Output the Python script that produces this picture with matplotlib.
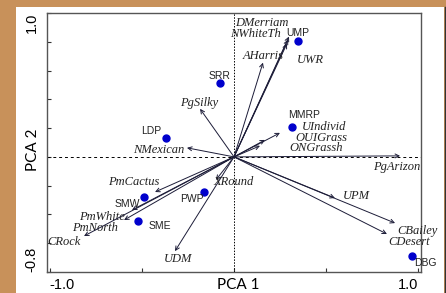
import matplotlib.pyplot as plt
from matplotlib.patches import Rectangle

# variable vectors (arrow tips) and where their labels sit
var_names = ['DMerriam', 'NWhiteTh', 'UWR', 'AHarris', 'UIndivid', 'OUIGrass',
             'ONGrassh', 'PgArizon', 'UPM', 'CBailey', 'CDesert', 'PgSilky',
             'NMexican', 'PmCactus', 'PmWhite', 'PmNorth', 'CRock', 'UDM', 'XRound']
var_x = [0.298, 0.293, 0.287, 0.157, 0.249, 0.168, 0.141, 0.900, 0.547, 0.873,
         0.829, -0.184, -0.255, -0.428, -0.553, -0.596, -0.813, -0.320, -0.098]
var_y = [0.836, 0.815, 0.787, 0.655, 0.167, 0.118, 0.077, 0.007, -0.286, -0.460,
         -0.536, 0.334, 0.063, -0.244, -0.369, -0.439, -0.550, -0.655, -0.160]
var_lab_x = [0.152, 0.119, 0.412, 0.157, 0.488, 0.472, 0.444, 0.883, 0.661, 0.992,
             0.949, -0.190, -0.407, -0.542, -0.715, -0.753, -0.921, -0.304, -0.005]
var_lab_y = [0.933, 0.857, 0.675, 0.703, 0.205, 0.133, 0.062, -0.070, -0.272, -0.515,
             -0.592, 0.376, 0.049, -0.174, -0.418, -0.494, -0.592, -0.710, -0.174]

# sites (blue points)
site_names = ['UMP', 'SRR', 'LDP', 'MMRP', 'SMW', 'PWP', 'SME', 'DBG']
site_x = [0.345, -0.076, -0.370, 0.313, -0.488, -0.161, -0.522, 0.966]
site_y = [0.803, 0.513, 0.130, 0.211, -0.276, -0.242, -0.446, -0.689]
site_lab_x = [0.345, -0.081, -0.450, 0.379, -0.580, -0.228, -0.401, 1.040]
site_lab_y = [0.864, 0.564, 0.181, 0.292, -0.327, -0.292, -0.480, -0.738]

fig = plt.figure(figsize=(4.46, 2.93), dpi=100)
fig.patch.set_facecolor('#C8915A')
panel = Rectangle((16 / 446, 0), 428 / 446, 286 / 293,
                  transform=fig.transFigure, facecolor='white',
                  edgecolor='none', zorder=-5)
fig.add_artist(panel)
fig.add_artist(plt.Line2D([445 / 446, 445 / 446], [0, 286 / 293],
                          transform=fig.transFigure, color='#333333', lw=1,
                          zorder=-4))

ax = fig.add_axes([47 / 446, 21 / 293, 374 / 446, 259 / 293])
ax.set_xlim(-1.0136, 1.0136)
ax.set_ylim(-0.8, 1.0)

ax.axhline(0, color='black', lw=0.7, ls=(0, (3, 3)))
ax.axvline(0, color='black', lw=0.7, ls=(0, (1.5, 1.5)))

for name, x, y, lx, ly in zip(var_names, var_x, var_y, var_lab_x, var_lab_y):
    ax.annotate('', xy=(x, y), xytext=(0, 0),
                arrowprops=dict(arrowstyle='->', color='#1c1c38', lw=0.7,
                                mutation_scale=7, shrinkA=0, shrinkB=0))
    ax.text(lx, ly, name, fontsize=9, family='Liberation Serif', style='italic',
            ha='center', va='center', color='#222222')

ax.plot(site_x, site_y, 'o', color='#0000CC', ms=5, zorder=3)
for name, lx, ly in zip(site_names, site_lab_x, site_lab_y):
    ax.text(lx, ly, name, fontsize=7.5, family='Liberation Sans',
            ha='center', va='center', color='#222222', clip_on=False)

ax.set_xticks([-1.0, -0.5, 0, 0.5, 1.0])
ax.set_xticklabels(['-1.0', '', '', '', '1.0'])
ax.set_yticks([-0.8, -0.6, -0.4, -0.2, 0, 0.2, 0.4, 0.6, 0.8, 1.0])
ax.set_yticklabels(['-0.8', '', '', '', '', '', '', '', '', '1.0'])
ax.tick_params(direction='in', length=3, width=0.8, labelsize=10.5, pad=4,
               colors='#333333')
ax.tick_params(axis='y', pad=6)
xl = ax.get_xticklabels()
xl[0].set_ha('left')
xl[-1].set_ha('right')
for t in ax.get_xticklabels() + ax.get_yticklabels():
    t.set_family('Liberation Sans')
    t.set_color('black')
yl = ax.get_yticklabels()
for t in yl:
    t.set_rotation(90)
    t.set_ha('right')
yl[0].set_va('bottom')
yl[-1].set_va('top')

for s in ax.spines.values():
    s.set_color('#555555')
    s.set_linewidth(1)

ax.text(0.511, -0.05, 'PCA 1', transform=ax.transAxes, fontsize=11,
        family='Lato', ha='center', va='center')
ax.text(-0.037, 0.471, 'PCA 2', transform=ax.transAxes, fontsize=11,
        family='Lato', ha='center', va='center', rotation=90)

fig.savefig('out.png', dpi=100, facecolor=fig.get_facecolor())
